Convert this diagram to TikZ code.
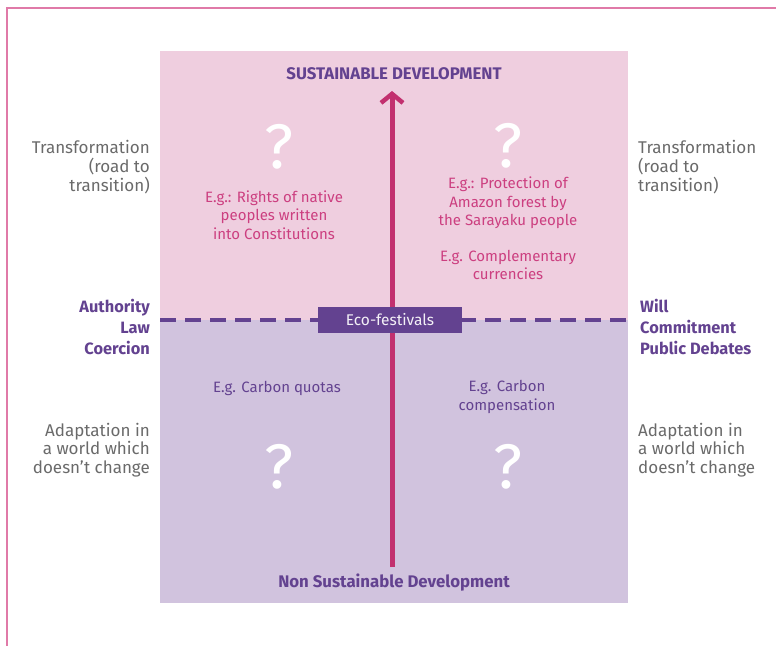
\documentclass[tikz,border=0pt]{standalone}
\usepackage{fontspec}
\setmainfont{Fira Sans}
\usetikzlibrary{arrows.meta}
\definecolor{framepink}{HTML}{E07AA8}
\definecolor{toppink}{HTML}{EFCEDF}
\definecolor{botlav}{HTML}{D1C3DE}
\definecolor{arrowpink}{HTML}{C2306F}
\definecolor{deeppurple}{HTML}{634290}
\definecolor{textpink}{HTML}{CC3F80}
\definecolor{greytext}{HTML}{6A6A6A}
\tikzset{
  pinktxt/.style={text=textpink, font=\fontsize{15}{18.5}\selectfont, align=center, inner sep=0pt},
  purptxt/.style={text=deeppurple, font=\fontsize{15}{18.5}\selectfont, align=center, inner sep=0pt},
  greyl/.style={text=greytext, font=\fontsize{17}{18.8}\selectfont, align=right, inner sep=0pt},
  greyr/.style={text=greytext, font=\fontsize{17}{18.8}\selectfont, align=left, inner sep=0pt},
  axl/.style={text=deeppurple, font=\fontsize{16.4}{21}\selectfont\bfseries, align=right, inner sep=0pt},
  axr/.style={text=deeppurple, font=\fontsize{16.4}{21}\selectfont\bfseries, align=left, inner sep=0pt},
  qmark/.style={text=white, font=\fontsize{63}{63}\selectfont, inner sep=0pt, text depth=0pt, anchor=base},
  head/.style={text=deeppurple, font=\fontsize{16.8}{18}\selectfont\bfseries, inner sep=0pt}
}
\begin{document}
\begin{tikzpicture}[x=1pt,y=-1pt]
\useasboundingbox (0,0) rectangle (776,646);
% frame
\draw[framepink, line width=1.2pt] (7,646) -- (7,8) -- (776,8);
% quadrants
\fill[toppink] (160,51) rectangle (628,320);
\fill[botlav] (160,320) rectangle (628,603);
% dashed horizontal axis
\coordinate (hl) at (160,320);
\coordinate (hr) at (628,320);
\draw[deeppurple, line width=4.5pt, dash pattern=on 16pt off 9pt] (hl) -- (hr);
% vertical arrow
\coordinate (vb) at (392,567);
\coordinate (vt) at (392,91);
\draw[arrowpink, line width=5pt, -{Straight Barb[length=9pt,width=22pt,line width=4.5pt]}] (vb) -- (vt);
% eco-festivals box
\node[fill=deeppurple, text=white!92!deeppurple, minimum width=144pt, minimum height=26pt, inner sep=0pt, font=\fontsize{15.5}{17}\selectfont] (eco) at (390,320) {Eco-festivals};
% headings
\node[head] (sd) at (394,74) {SUSTAINABLE DEVELOPMENT};
\node[head] (nsd) at (394,583) {Non Sustainable Development};
% question marks
\node[qmark] (q1) at (279,168) {?};
\node[qmark] (q2) at (508,167) {?};
\node[qmark] (q3) at (279,488) {?};
\node[qmark] (q4) at (508,488) {?};
% quadrant texts
\node[pinktxt] (t1) at (274,215) {E.g.: Rights of native\\peoples written\\into Constitutions};
\node[pinktxt] (t2) at (508,203) {E.g.: Protection of\\Amazon forest by\\the Sarayaku people};
\node[pinktxt] (t3) at (508,265) {E.g. Complementary\\currencies};
\node[purptxt] (t4) at (277,388) {E.g. Carbon quotas};
\node[purptxt] (t5) at (507,397) {E.g. Carbon\\compensation};
% side labels
\node[greyl, anchor=east] (l1) at (150,167) {Transformation\\(road to\\transition)};
\node[greyr, anchor=west] (r1) at (638,167) {Transformation\\(road to\\transition)};
\node[greyl, anchor=east] (l2) at (150,450) {Adaptation in\\a world which\\doesn’t change};
\node[greyr, anchor=west] (r2) at (638,450) {Adaptation in\\a world which\\doesn’t change};
\node[axl, anchor=east] (l3) at (150,327) {Authority\\Law\\Coercion};
\node[axr, anchor=west] (r3) at (640,327) {Will\\Commitment\\Public Debates};
\end{tikzpicture}
\end{document}
